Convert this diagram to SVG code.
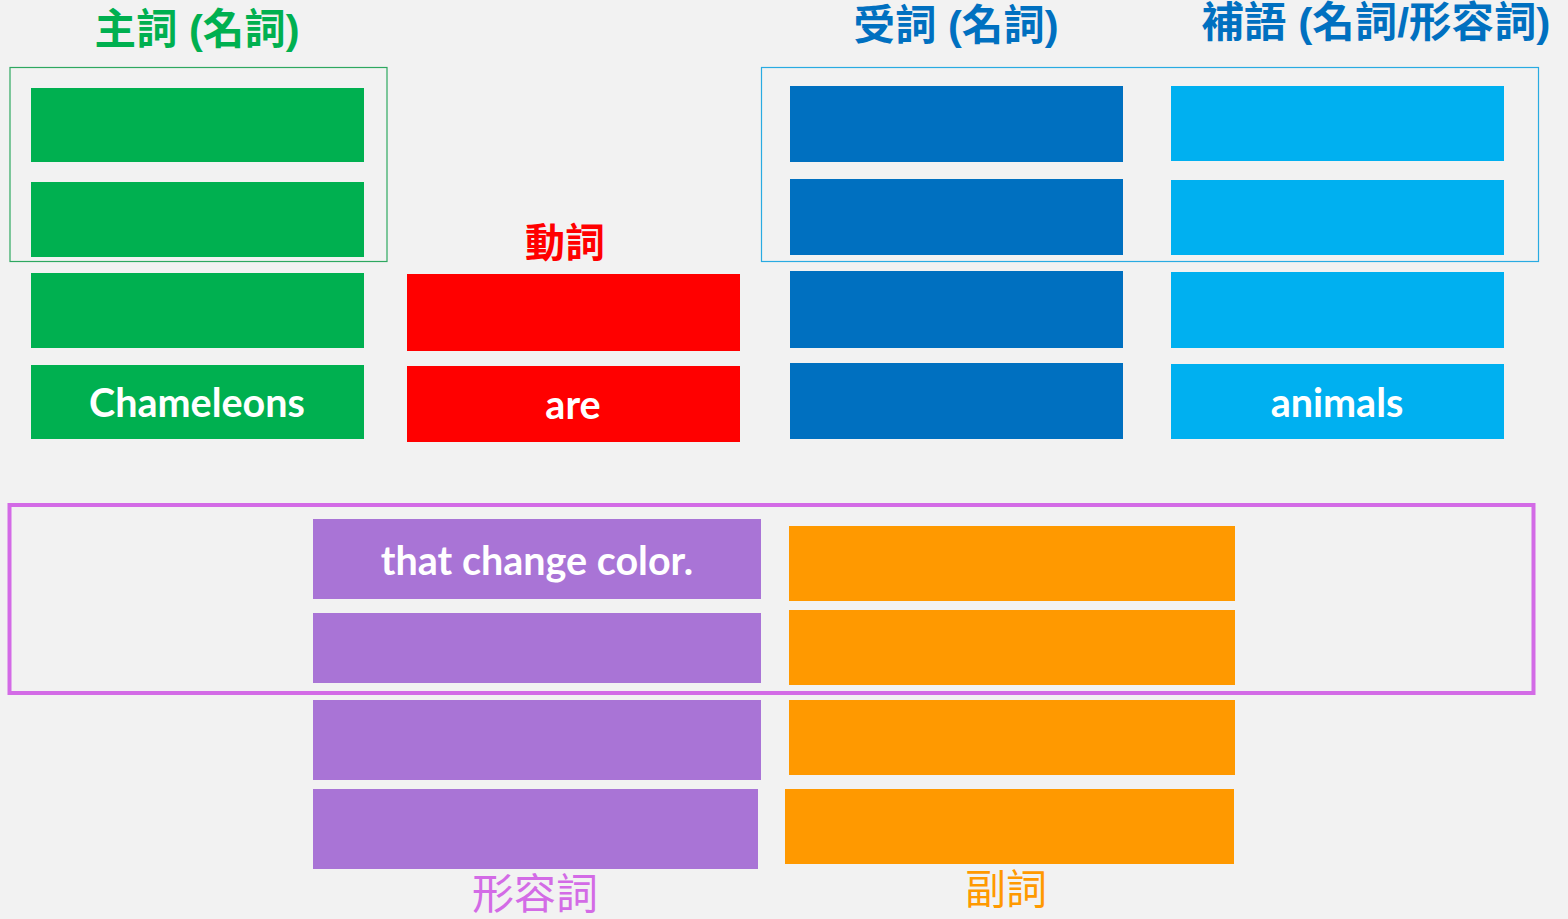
<svg xmlns="http://www.w3.org/2000/svg" width="1568" height="919" viewBox="0 0 1568 919">
<style>
.h{font-family:"Liberation Sans","Noto Sans CJK TC",sans-serif;font-weight:bold;font-size:41.5px;text-anchor:middle}
.l{font-family:"Noto Sans CJK TC",sans-serif;font-size:42px;text-anchor:middle}
.t{font-family:Lato,"Open Sans",sans-serif;font-weight:bold;font-size:39.5px;fill:#fff;text-anchor:middle}
.g{fill:#00B050}.r{fill:#FF0000}.b{fill:#0070C0}.c{fill:#00B0F0}.p{fill:#A974D6}.o{fill:#FF9900}
</style>
<rect width="1568" height="919" fill="#F2F2F2"/>
<g id="subject">
<text class="h g" x="197" y="44">主詞 (名詞)</text>
<rect x="10" y="67.5" width="377" height="194" fill="none" stroke="#2EA860" stroke-width="1.2"/>
<rect class="g" x="31" y="88" width="333" height="74"/>
<rect class="g" x="31" y="182" width="333" height="75"/>
<rect class="g" x="31" y="273" width="333" height="75"/>
<rect class="g" x="31" y="365" width="333" height="74"/>
<text class="t" x="197" y="417">Chameleons</text>
</g>
<g id="verb">
<text class="h r" x="565" y="257" style="font-size:40px">動詞</text>
<rect class="r" x="407" y="274" width="333" height="77"/>
<rect class="r" x="407" y="366" width="333" height="76"/>
<text class="t" x="573" y="419">are</text>
</g>
<g id="object">
<text class="h b" x="956" y="40">受詞 (名詞)</text>
<rect class="b" x="790" y="86" width="333" height="76"/>
<rect class="b" x="790" y="179" width="333" height="76"/>
<rect class="b" x="790" y="271" width="333" height="77"/>
<rect class="b" x="790" y="363" width="333" height="76"/>
</g>
<g id="complement">
<text class="h b" x="1376" y="37" textLength="349" lengthAdjust="spacingAndGlyphs">補語 (名詞/形容詞)</text>
<rect class="c" x="1171" y="86" width="333" height="75"/>
<rect class="c" x="1171" y="180" width="333" height="75"/>
<rect class="c" x="1171" y="272" width="333" height="76"/>
<rect class="c" x="1171" y="364" width="333" height="75"/>
<text class="t" x="1337" y="417">animals</text>
</g>
<rect x="761.5" y="67.5" width="777" height="194" fill="none" stroke="#29ABE2" stroke-width="1.2"/>
<g id="adjective">
<rect class="p" x="313" y="519" width="448" height="80"/>
<rect class="p" x="313" y="613" width="448" height="70"/>
<rect class="p" x="313" y="700" width="448" height="80"/>
<rect class="p" x="313" y="789" width="445" height="80"/>
<text class="t" x="537" y="575">that change color.</text>
<text class="l" x="535" y="909" fill="#D36BE6">形容詞</text>
</g>
<g id="adverb">
<rect class="o" x="789" y="526" width="446" height="75"/>
<rect class="o" x="789" y="610" width="446" height="75"/>
<rect class="o" x="789" y="700" width="446" height="75"/>
<rect class="o" x="785" y="789" width="449" height="75"/>
<text class="l" x="1006" y="904" fill="#FF9900" style="font-size:41px">副詞</text>
</g>
<rect x="9.5" y="505" width="1524" height="188" fill="none" stroke="#D36BE6" stroke-width="4"/>
<g id="connectors"/>
</svg>
